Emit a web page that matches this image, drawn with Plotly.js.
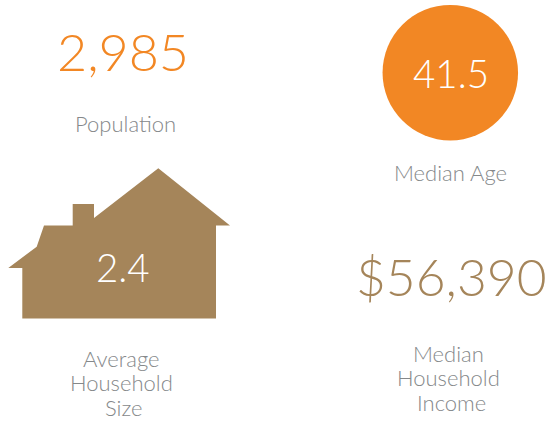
<!DOCTYPE html>
<html><head><meta charset="utf-8">
<script src="https://cdn.plot.ly/plotly-3.0.1.min.js"></script>
<style>html,body{margin:0;padding:0;background:#fff}#c{width:547px;height:421px}</style>
</head><body><div id="c"></div>
<script>
const metricValues = ["2,985", "41.5", "2.4", "$56,390"];
const valueX = [122.5, 451, 122.5, 451];
const valueY = [51, 73, 266.5, 276];
const valueSizes = [52, 38.5, 38.5, 51.5];
const valueColors = ["#f28724", "#ffffff", "#ffffff", "#a5855a"];
const labelLines = ["Population", "Median Age", "Average", "Household", "Size", "Median", "Household", "Income"];
const labelX = [125, 450, 121.5, 121.5, 124, 448, 448, 451];
const labelY = [123.5, 172, 358, 382.5, 407, 353, 377, 402];
const houseX = [158.3, 230, 216, 216, 22.3, 22.3, 8.3, 36.7, 44, 72.7, 72.7, 94, 94, 158.3];
const houseY = [168.3, 225.5, 225.5, 318.5, 318.5, 268, 268, 246.7, 225.5, 225.5, 204, 204, 218, 168.3];
const circleX = [450.3], circleY = [72.7];

const fam = "Lato, 'Noto Sans', sans-serif";
const traces = [
  {type:"scatter", mode:"lines", x:houseX, y:houseY, fill:"toself", fillcolor:"#a5855a", line:{width:0,color:"#a5855a"}, hoverinfo:"skip"},
  {type:"scatter", mode:"markers", x:circleX, y:circleY, marker:{size:135.5,color:"#f28724",line:{width:0}}, hoverinfo:"skip"}
];
const annotations = [];
metricValues.forEach((t,i)=>annotations.push({x:valueX[i],y:valueY[i],xref:"x",yref:"y",text:t,showarrow:false,xanchor:"center",yanchor:"middle",
  font:{family:fam,size:valueSizes[i],color:valueColors[i],weight:300}}));
labelLines.forEach((t,i)=>annotations.push({x:labelX[i],y:labelY[i],xref:"x",yref:"y",text:t,showarrow:false,xanchor:"center",yanchor:"middle",align:"center",
  font:{family:fam,size:22,color:"#85888a",weight:300}}));
Plotly.newPlot("c",traces,{
  width:547,height:421,margin:{l:0,r:0,t:0,b:0},showlegend:false,paper_bgcolor:"#fff",plot_bgcolor:"#fff",
  xaxis:{range:[0,547],visible:false,fixedrange:true},
  yaxis:{range:[421,0],visible:false,fixedrange:true},
  annotations
},{displayModeBar:false,staticPlot:true});
</script></body></html>
